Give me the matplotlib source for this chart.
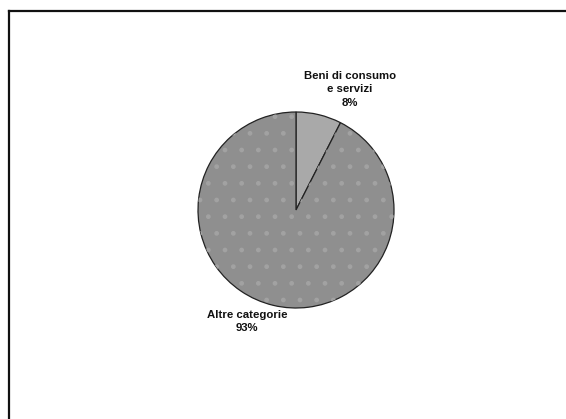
import numpy as np
import matplotlib.pyplot as plt
from matplotlib.lines import Line2D

# shares
categories = ['Beni di consumo\ne servizi', 'Altre categorie']
shares = [7.5, 92.5]
pct_labels = ['8%', '93%']
colors = ['#a9a9a9', '#8f8f8f']

W, H = 566, 419
fig = plt.figure(figsize=(W / 100, H / 100), dpi=100)
fig.patch.set_facecolor('white')

# pie centre at (296, 210) px, radius 98 px
cx, cy, r = 296, 210, 98
ax = fig.add_axes([(cx - r) / W, (H - cy - r) / H, 2 * r / W, 2 * r / H])
wedges, _ = ax.pie(shares, colors=colors, startangle=90, counterclock=False,
                   radius=1, wedgeprops=dict(edgecolor='#222222', linewidth=0.9))
# faint dots on the big slice
dots, _ = ax.pie(shares, colors=['none', 'none'], startangle=90, counterclock=False,
                 radius=1, wedgeprops=dict(edgecolor='#a2a2a2', linewidth=0))
dots[0].set_visible(False)
dots[1].set_hatch('.')

ax.set_xlim(-1, 1)
ax.set_ylim(-1, 1)
ax.set_aspect('equal')
ax.axis('off')

font = dict(family='Liberation Sans', fontsize=8.2, fontweight='bold',
            ha='center', va='center', color='#111111', linespacing=1.4)
ax.text(0.55, 1.23, categories[0] + '\n' + pct_labels[0], clip_on=False, **font)
ax.text(-0.5, -1.14, categories[1] + '\n' + pct_labels[1], clip_on=False, **font)

# frame lines on top and left
fig.add_artist(Line2D([9 / W, 1], [1 - 11 / H, 1 - 11 / H], color='#111111', lw=1.6,
                      transform=fig.transFigure))
fig.add_artist(Line2D([9 / W, 9 / W], [0, 1 - 11 / H], color='#111111', lw=1.6,
                      transform=fig.transFigure))

fig.savefig('out.png', dpi=100)
